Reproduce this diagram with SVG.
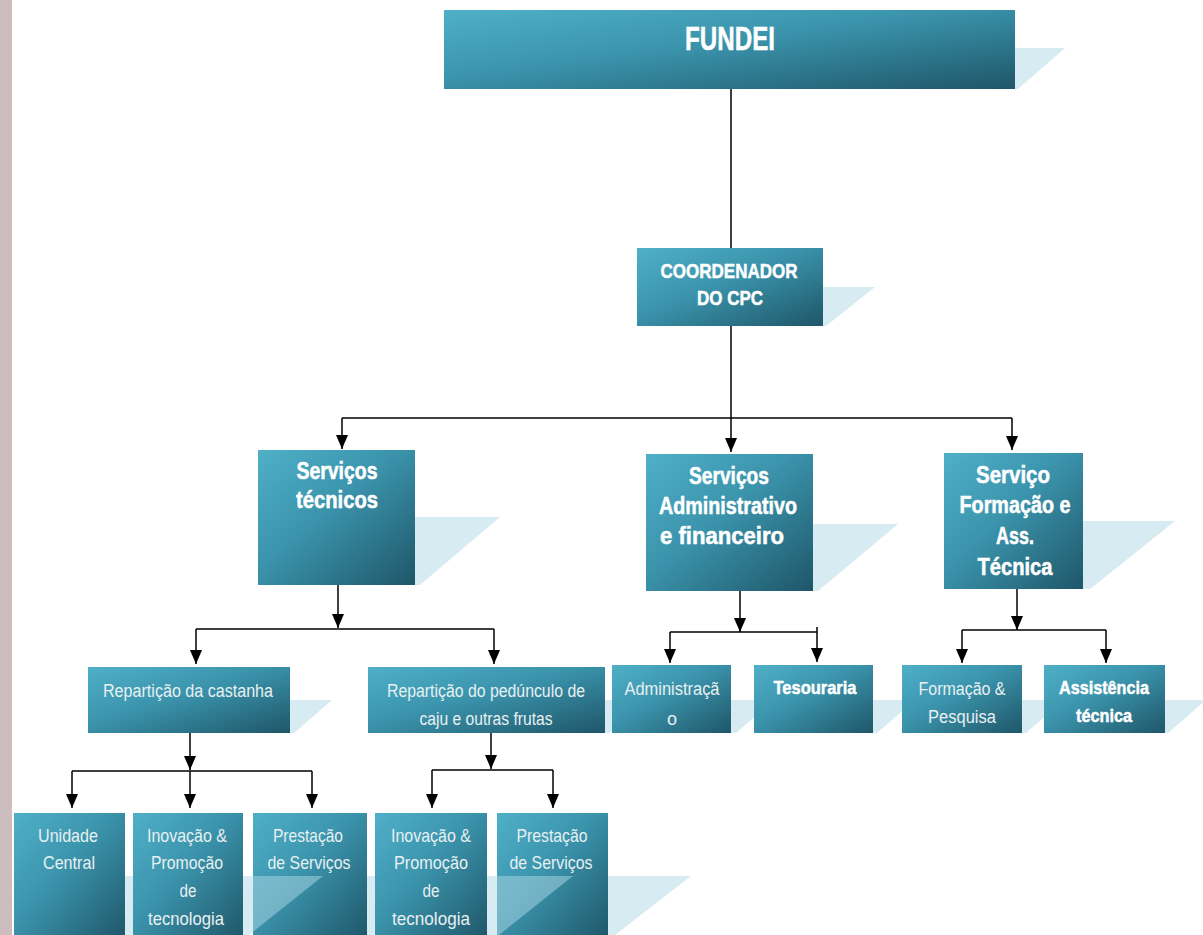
<svg xmlns="http://www.w3.org/2000/svg" width="1203" height="935" viewBox="0 0 1203 935">
<defs>
<linearGradient id="boxg" x1="0" y1="0" x2="1" y2="1">
<stop offset="0" stop-color="#4fb0c8"/>
<stop offset="0.45" stop-color="#3a93ab"/>
<stop offset="1" stop-color="#1f5669"/>
</linearGradient>
<marker id="ah" markerUnits="userSpaceOnUse" markerWidth="14" markerHeight="12" viewBox="0 0 14 12" refX="14" refY="6" orient="auto">
<path d="M0 0 L14 6 L0 12 Z" fill="#000"/>
</marker>
<style>
.box{fill:url(#boxg);}
.sh{fill:#b0d8e6;fill-opacity:0.5;}
.b{font-family:"Liberation Sans Narrow","Liberation Sans",Arial,sans-serif;font-weight:bold;fill:#ffffff;stroke:#ffffff;stroke-width:0.5;text-anchor:middle;}
.l{font-family:"Liberation Sans Narrow","Liberation Sans",Arial,sans-serif;fill:#e8f0f2;text-anchor:middle;font-size:18px;}
.bl{font-size:19px;}
.bb{font-size:23px;}
.ln{stroke:#000;stroke-width:1.5;fill:none;}
.ar{stroke:#000;stroke-width:1.5;fill:none;}
</style>
</defs>
<rect x="0" y="0" width="12" height="935" fill="#cdbdbe"/>

<g id="fundei">
<polygon class="sh" points="700,48 1065,48 1018,89 700,89"/>
<rect class="box" x="444" y="10" width="571" height="79"/>
<text class="b" x="730" y="50" font-size="34" textLength="90" lengthAdjust="spacingAndGlyphs">FUNDEI</text>
</g>

<g id="coordenador">
<polygon class="sh" points="730,287 875,287 826,326 730,326"/>
<rect class="box" x="637" y="248" width="186" height="78"/>
<text class="b" x="729" y="278" font-size="21" textLength="137" lengthAdjust="spacingAndGlyphs">COORDENADOR</text>
<text class="b" x="730" y="305" font-size="21" textLength="66" lengthAdjust="spacingAndGlyphs">DO CPC</text>
</g>

<g id="servicos-tecnicos">
<polygon class="sh" points="340,517 500,517 420,585 340,585"/>
<rect class="box" x="258" y="450" width="157" height="135"/>
<text class="b bb" x="337" y="479" textLength="81" lengthAdjust="spacingAndGlyphs">Serviços</text>
<text class="b bb" x="337" y="508" textLength="82" lengthAdjust="spacingAndGlyphs">técnicos</text>
</g>

<g id="servicos-admin">
<polygon class="sh" points="730,524 898,524 818,591 730,591"/>
<rect class="box" x="646" y="454" width="167" height="137"/>
<text class="b bb" x="729" y="484" textLength="80" lengthAdjust="spacingAndGlyphs">Serviços</text>
<text class="b bb" x="728" y="514" textLength="138" lengthAdjust="spacingAndGlyphs">Administrativo</text>
<text class="b bb" x="722" y="544" textLength="124" lengthAdjust="spacingAndGlyphs">e financeiro</text>
</g>

<g id="servico-formacao">
<polygon class="sh" points="1013,521 1175,521 1090,589 1013,589"/>
<rect class="box" x="944" y="453" width="139" height="136"/>
<text class="b bb" x="1013" y="483" textLength="74" lengthAdjust="spacingAndGlyphs">Serviço</text>
<text class="b bb" x="1015" y="513" textLength="111" lengthAdjust="spacingAndGlyphs">Formação e</text>
<text class="b bb" x="1015" y="544" textLength="38" lengthAdjust="spacingAndGlyphs">Ass.</text>
<text class="b bb" x="1015" y="575" textLength="75" lengthAdjust="spacingAndGlyphs">Técnica</text>
</g>

<g id="reparticao-castanha">
<polygon class="sh" points="190,700 332,700 294,733 190,733"/>
<rect class="box" x="88" y="667" width="202" height="66"/>
<text class="l" x="188" y="697" textLength="170" lengthAdjust="spacingAndGlyphs">Repartição da castanha</text>
</g>

<g id="reparticao-peduncul">
<polygon class="sh" points="486,700 648,700 610,733 486,733"/>
<rect class="box" x="368" y="667" width="237" height="66"/>
<text class="l" x="486" y="697" textLength="198" lengthAdjust="spacingAndGlyphs">Repartição do pedúnculo de</text>
<text class="l" x="486" y="725" textLength="133" lengthAdjust="spacingAndGlyphs">caju e outras frutas</text>
</g>

<g id="administracao">
<polygon class="sh" points="672,700 774,700 736,733 672,733"/>
<rect class="box" x="612" y="665" width="119" height="68"/>
<text class="l" x="672" y="695" textLength="95" lengthAdjust="spacingAndGlyphs">Administraçã</text>
<text class="l" x="672" y="725">o</text>
</g>

<g id="tesouraria">
<polygon class="sh" points="813,700 915,700 877,733 813,733"/>
<rect class="box" x="754" y="665" width="119" height="68"/>
<text class="b bl" x="815" y="694" textLength="83" lengthAdjust="spacingAndGlyphs">Tesouraria</text>
</g>

<g id="formacao-pesquisa">
<polygon class="sh" points="962,700 1064,700 1026,733 962,733"/>
<rect class="box" x="902" y="665" width="120" height="68"/>
<text class="l" x="962" y="695" textLength="87" lengthAdjust="spacingAndGlyphs">Formação &amp;</text>
<text class="l" x="962" y="723" textLength="68" lengthAdjust="spacingAndGlyphs">Pesquisa</text>
</g>

<g id="assistencia-tecnica">
<polygon class="sh" points="1104,700 1206,700 1168,733 1104,733"/>
<rect class="box" x="1044" y="665" width="121" height="68"/>
<text class="b bl" x="1104" y="694" textLength="90" lengthAdjust="spacingAndGlyphs">Assistência</text>
<text class="b bl" x="1104" y="722" textLength="56" lengthAdjust="spacingAndGlyphs">técnica</text>
</g>

<g id="unidade-central">
<polygon class="sh" points="70,876 205,876 131,935 70,935"/>
<rect class="box" x="14" y="813" width="111" height="127"/>
<text class="l bl" x="68" y="842" textLength="60" lengthAdjust="spacingAndGlyphs">Unidade</text>
<text class="l bl" x="69" y="869" textLength="52" lengthAdjust="spacingAndGlyphs">Central</text>
</g>

<g id="prestacao-1">
<polygon class="sh" points="310,876 447,876 373,935 310,935"/>
<rect class="box" x="253" y="813" width="114" height="127"/>
<text class="l bl" x="308" y="842" textLength="70" lengthAdjust="spacingAndGlyphs">Prestação</text>
<text class="l bl" x="309" y="869" textLength="83" lengthAdjust="spacingAndGlyphs">de Serviços</text>
</g>

<g id="inovacao-1">
<polygon class="sh" points="188,876 323,876 249,935 188,935"/>
<rect class="box" x="133" y="813" width="110" height="127"/>
<text class="l bl" x="187" y="842" textLength="80" lengthAdjust="spacingAndGlyphs">Inovação &amp;</text>
<text class="l bl" x="187" y="869" textLength="72" lengthAdjust="spacingAndGlyphs">Promoção</text>
<text class="l bl" x="188" y="897" textLength="17" lengthAdjust="spacingAndGlyphs">de</text>
<text class="l bl" x="186" y="925" textLength="76" lengthAdjust="spacingAndGlyphs">tecnologia</text>
</g>

<g id="prestacao-2">
<polygon class="sh" points="552,876 691,876 615,935 552,935"/>
<rect class="box" x="497" y="813" width="111" height="127"/>
<text class="l bl" x="552" y="842" textLength="71" lengthAdjust="spacingAndGlyphs">Prestação</text>
<text class="l bl" x="551" y="869" textLength="83" lengthAdjust="spacingAndGlyphs">de Serviços</text>
</g>

<g id="inovacao-2">
<polygon class="sh" points="431,876 573,876 499,935 431,935"/>
<rect class="box" x="375" y="813" width="112" height="127"/>
<text class="l bl" x="431" y="842" textLength="80" lengthAdjust="spacingAndGlyphs">Inovação &amp;</text>
<text class="l bl" x="431" y="869" textLength="74" lengthAdjust="spacingAndGlyphs">Promoção</text>
<text class="l bl" x="431" y="897" textLength="17" lengthAdjust="spacingAndGlyphs">de</text>
<text class="l bl" x="431" y="925" textLength="78" lengthAdjust="spacingAndGlyphs">tecnologia</text>
</g>

<g id="connectors">
<path class="ln" d="M731 89 V248"/>
<path class="ar" d="M731 326 V452" marker-end="url(#ah)"/>
<path class="ln" d="M342 418 H1012"/>
<path class="ar" d="M342 418 V449" marker-end="url(#ah)"/>
<path class="ar" d="M1012 418 V450" marker-end="url(#ah)"/>

<path class="ar" d="M338 585 V628" marker-end="url(#ah)"/>
<path class="ln" d="M196 629 H494"/>
<path class="ar" d="M196 629 V664" marker-end="url(#ah)"/>
<path class="ar" d="M494 629 V664" marker-end="url(#ah)"/>

<path class="ar" d="M740 591 V632" marker-end="url(#ah)"/>
<path class="ln" d="M670 632 H817"/>
<path class="ar" d="M670 632 V663" marker-end="url(#ah)"/>
<path class="ar" d="M817 627 V662" marker-end="url(#ah)"/>

<path class="ar" d="M1017 589 V630" marker-end="url(#ah)"/>
<path class="ln" d="M962 630 H1106"/>
<path class="ar" d="M962 630 V663" marker-end="url(#ah)"/>
<path class="ar" d="M1106 630 V663" marker-end="url(#ah)"/>

<path class="ar" d="M190 733 V770" marker-end="url(#ah)"/>
<path class="ln" d="M72 771 H312"/>
<path class="ar" d="M72 771 V808" marker-end="url(#ah)"/>
<path class="ar" d="M190 771 V808" marker-end="url(#ah)"/>
<path class="ar" d="M312 771 V808" marker-end="url(#ah)"/>

<path class="ar" d="M491 733 V769" marker-end="url(#ah)"/>
<path class="ln" d="M432 770 H553"/>
<path class="ar" d="M432 770 V808" marker-end="url(#ah)"/>
<path class="ar" d="M553 770 V808" marker-end="url(#ah)"/>
</g>
</svg>
